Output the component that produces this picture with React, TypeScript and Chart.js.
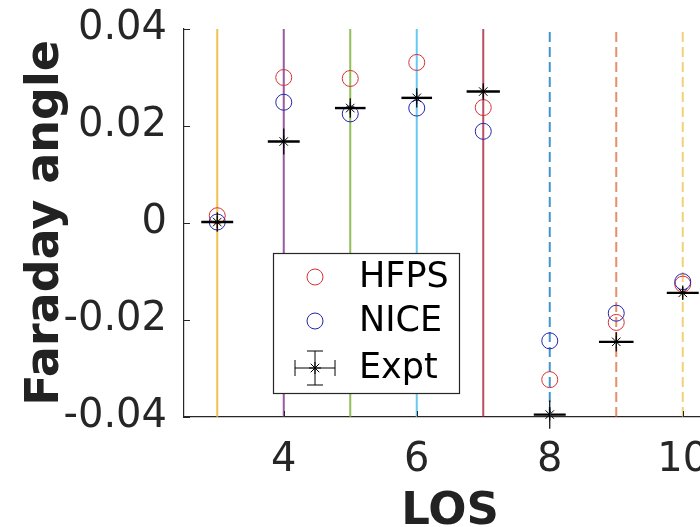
import React, { useEffect, useRef } from "react";
import { Chart, registerables } from "chart.js";

Chart.register(...registerables);

// Line-of-sight index and Faraday rotation angles
const losPositions = [3, 4, 5, 6, 7, 8, 9, 10];
const hfpsAngle = [0.0015, 0.03, 0.0298, 0.0331, 0.0238, -0.0323, -0.0205, -0.0126];
const niceAngle = [0.0002, 0.0249, 0.0225, 0.0237, 0.0189, -0.0243, -0.0186, -0.0121];
const exptAngle = [0.0002, 0.0168, 0.0237, 0.0258, 0.0271, -0.0395, -0.0245, -0.0144];
const exptLosErr = [0.24, 0.24, 0.23, 0.23, 0.25, 0.24, 0.26, 0.24];
const exptAngleErr = [0.002, 0.0027, 0.002, 0.002, 0.0017, 0.0029, 0.002, 0.0015];

// Reference lines drawn at each LOS
const losLineColors = [
  "rgba(237,177,32,0.8)",
  "rgba(126,47,142,0.8)",
  "rgba(119,172,48,0.8)",
  "rgba(77,190,238,0.85)",
  "rgba(162,20,47,0.75)",
  "rgba(0,114,189,0.75)",
  "rgba(217,83,25,0.65)",
  "rgba(237,177,32,0.6)",
];
const losLineDashed = [false, false, false, false, false, true, true, true];

const xTickValues = [4, 6, 8, 10];
const yTickValues = [-0.04, -0.02, 0, 0.02, 0.04];
const xRange = [2.5, 10.5];
const yRange = [-0.04, 0.04];

const AXIS_COLOR = "#262626";
const FONT = "'DejaVu Sans', 'Liberation Sans', sans-serif";

function drawStar(ctx: CanvasRenderingContext2D, x: number, y: number, r: number) {
  ctx.beginPath();
  ctx.moveTo(x - r, y);
  ctx.lineTo(x + r, y);
  ctx.moveTo(x, y - r);
  ctx.lineTo(x, y + r);
  const d = r * Math.SQRT1_2;
  ctx.moveTo(x - d, y - d);
  ctx.lineTo(x + d, y + d);
  ctx.moveTo(x - d, y + d);
  ctx.lineTo(x + d, y - d);
  ctx.stroke();
}

const decorPlugin = {
  id: "matlabDecor",
  afterDatasetsDraw(chart: any) {
    const { ctx, chartArea, scales } = chart;
    const xs = scales.x;
    const ys = scales.y;
    ctx.save();

    // Expt error bars
    ctx.strokeStyle = "#000";
    losPositions.forEach((los, i) => {
      const px = xs.getPixelForValue(los);
      const py = ys.getPixelForValue(exptAngle[i]);
      const pxl = xs.getPixelForValue(los - exptLosErr[i]);
      const pxr = xs.getPixelForValue(los + exptLosErr[i]);
      const pyt = ys.getPixelForValue(exptAngle[i] + exptAngleErr[i]);
      const pyb = ys.getPixelForValue(exptAngle[i] - exptAngleErr[i]);
      ctx.lineWidth = 2.4;
      ctx.beginPath();
      ctx.moveTo(pxl, py);
      ctx.lineTo(pxr, py);
      ctx.stroke();
      ctx.lineWidth = 1.2;
      ctx.beginPath();
      ctx.moveTo(px, pyt);
      ctx.lineTo(px, pyb);
      ctx.stroke();
    });

    // inward tick marks
    ctx.strokeStyle = AXIS_COLOR;
    ctx.lineWidth = 1;
    yTickValues.forEach((v) => {
      const py = Math.round(ys.getPixelForValue(v)) + 0.5;
      ctx.beginPath();
      ctx.moveTo(chartArea.left, py);
      ctx.lineTo(chartArea.left + 6, py);
      ctx.stroke();
    });
    xTickValues.forEach((v) => {
      const px = Math.round(xs.getPixelForValue(v)) + 0.5;
      ctx.beginPath();
      ctx.moveTo(px, chartArea.bottom);
      ctx.lineTo(px, chartArea.bottom - 6);
      ctx.stroke();
    });

    // legend box
    const bx = chartArea.left + 89;
    const by = chartArea.top + 224;
    const bw = 186;
    const bh = 140;
    ctx.fillStyle = "#fff";
    ctx.fillRect(bx, by, bw, bh);
    ctx.strokeStyle = AXIS_COLOR;
    ctx.lineWidth = 1.2;
    ctx.strokeRect(bx + 0.5, by + 0.5, bw, bh);

    const sets = chart.data.datasets.filter((d: any) => d.inLegend);
    const rowY = [by + 24, by + 68, by + 115];
    const mx = bx + 42;
    ctx.font = `35px ${FONT}`;
    ctx.textBaseline = "alphabetic";
    ctx.textAlign = "left";
    sets.forEach((d: any, i: number) => {
      const cy = rowY[i];
      ctx.strokeStyle = d.borderColor;
      ctx.lineWidth = 1;
      if (d.pointStyle === "circle") {
        ctx.beginPath();
        ctx.arc(mx, cy, 8, 0, Math.PI * 2);
        ctx.stroke();
      } else {
        ctx.beginPath();
        ctx.moveTo(mx - 20, cy);
        ctx.lineTo(mx + 20, cy);
        ctx.moveTo(mx - 20, cy - 8);
        ctx.lineTo(mx - 20, cy + 8);
        ctx.moveTo(mx + 20, cy - 8);
        ctx.lineTo(mx + 20, cy + 8);
        ctx.moveTo(mx, cy - 17);
        ctx.lineTo(mx, cy + 17);
        ctx.moveTo(mx - 8, cy - 17);
        ctx.lineTo(mx + 8, cy - 17);
        ctx.moveTo(mx - 8, cy + 17);
        ctx.lineTo(mx + 8, cy + 17);
        ctx.stroke();
        drawStar(ctx, mx, cy, 6);
      }
      ctx.fillStyle = "#000";
      ctx.fillText(d.label, bx + 86, cy + 10);
    });

    ctx.restore();
  },
};

export default function App() {
  const canvasRef = useRef<HTMLCanvasElement | null>(null);

  useEffect(() => {
    const canvas = canvasRef.current;
    if (!canvas) return;

    const lineSets = losPositions.map((los, i) => ({
      type: "line" as const,
      label: `LOS ${los}`,
      data: [
        { x: los, y: yRange[0] },
        { x: los, y: yRange[1] },
      ],
      borderColor: losLineColors[i],
      borderWidth: 2,
      borderDash: losLineDashed[i] ? [10, 5] : [],
      pointRadius: 0,
      showLine: true,
      fill: false,
      order: 10,
      inLegend: false,
    }));

    const chart = new Chart(canvas, {
      type: "scatter",
      data: {
        datasets: [
          ...lineSets,
          {
            label: "HFPS",
            data: losPositions.map((x, i) => ({ x, y: hfpsAngle[i] })),
            pointStyle: "circle",
            pointRadius: 8,
            borderColor: "#d83030",
            backgroundColor: "rgba(0,0,0,0)",
            borderWidth: 1,
            clip: false,
            order: 2,
            inLegend: true,
          },
          {
            label: "NICE",
            data: losPositions.map((x, i) => ({ x, y: niceAngle[i] })),
            pointStyle: "circle",
            pointRadius: 8,
            borderColor: "#2424b0",
            backgroundColor: "rgba(0,0,0,0)",
            borderWidth: 1,
            clip: false,
            order: 1,
            inLegend: true,
          },
          {
            label: "Expt",
            data: losPositions.map((x, i) => ({ x, y: exptAngle[i] })),
            pointStyle: "star",
            pointRadius: 6,
            borderColor: "#000",
            backgroundColor: "#000",
            borderWidth: 1,
            clip: false,
            order: 0,
            inLegend: true,
          },
        ] as any,
      },
      options: {
        responsive: false,
        animation: false,
        events: [],
        layout: { padding: { top: 29, right: 4, left: 0, bottom: 0 } },
        plugins: {
          legend: { display: false },
          tooltip: { enabled: false },
        },
        scales: {
          x: {
            type: "linear",
            min: xRange[0],
            max: xRange[1],
            grid: { display: false, drawTicks: false },
            border: { display: true, color: AXIS_COLOR, width: 1.2 },
            afterBuildTicks: (s: any) => {
              s.ticks = xTickValues.map((v) => ({ value: v }));
            },
            afterFit: (s: any) => {
              s.height = 110;
              s.paddingLeft = 0;
              s.paddingRight = 0;
            },
            ticks: {
              autoSkip: false,
              maxRotation: 0,
              padding: 20,
              color: AXIS_COLOR,
              font: { family: FONT, size: 40 },
              callback: (v: any) => String(v),
            },
            title: {
              display: true,
              text: "LOS",
              color: "#222",
              font: { family: FONT, size: 45, weight: "bold", lineHeight: 0.66 },
              padding: { top: 0, bottom: 0 },
            },
          },
          y: {
            type: "linear",
            min: yRange[0],
            max: yRange[1],
            grid: { display: false, drawTicks: false },
            border: { display: true, color: AXIS_COLOR, width: 1.2 },
            afterBuildTicks: (s: any) => {
              s.ticks = yTickValues.map((v) => ({ value: v }));
            },
            afterFit: (s: any) => {
              s.width = 184;
              s.paddingTop = 0;
              s.paddingBottom = 0;
            },
            ticks: {
              autoSkip: false,
              padding: 17,
              color: AXIS_COLOR,
              font: { family: FONT, size: 40 },
              callback: (v: any) => (Math.abs(v) < 1e-12 ? "0" : Number(v).toFixed(2)),
            },
            title: {
              display: true,
              text: "Faraday angle",
              color: "#222",
              font: { family: FONT, size: 46, weight: "bold" },
              padding: { top: 18, bottom: 0 },
            },
          },
        },
      } as any,
      plugins: [decorPlugin],
    });

    return () => chart.destroy();
  }, []);

  return (
    <div
      style={{
        position: "fixed",
        left: 0,
        top: 0,
        width: 700,
        height: 527,
        overflow: "hidden",
        background: "#fff",
      }}
    >
      <canvas ref={canvasRef} width={725} height={527} style={{ display: "block" }} />
    </div>
  );
}
